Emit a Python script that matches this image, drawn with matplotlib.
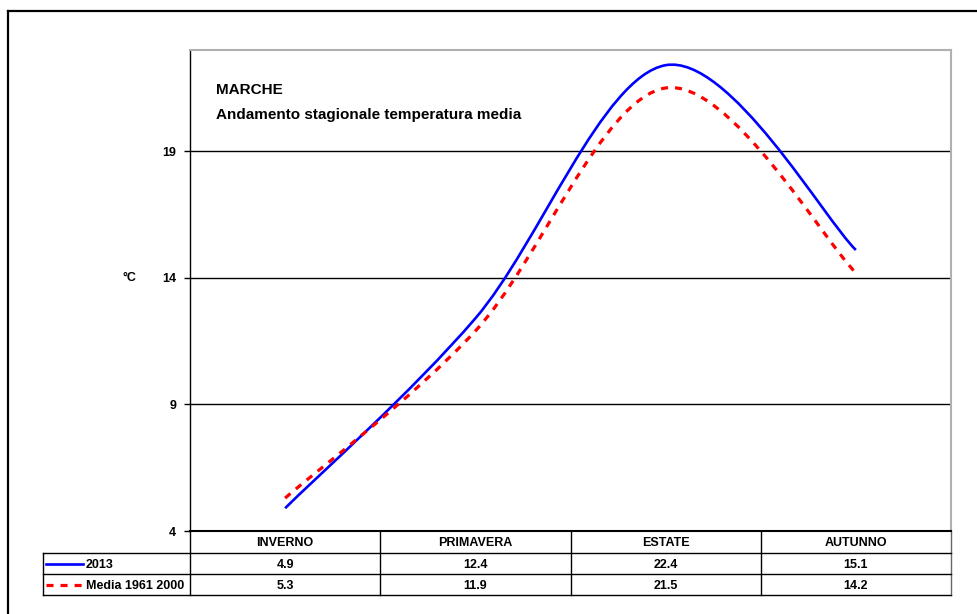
import numpy as np
import matplotlib.pyplot as plt
from matplotlib.path import Path
from matplotlib.patches import PathPatch
from matplotlib.lines import Line2D

plt.rcParams['font.family'] = ['Liberation Sans', 'DejaVu Sans']
plt.rcParams['font.weight'] = 'bold'

seasons = ['INVERNO', 'PRIMAVERA', 'ESTATE', 'AUTUNNO']
t2013 = [4.9, 12.4, 22.4, 15.1]
media = [5.3, 11.9, 21.5, 14.2]
series_names = ['2013', 'Media 1961 2000']
yticks = [4, 9, 14, 19]

W, H = 978, 614
fig = plt.figure(figsize=(W / 100, H / 100), dpi=100)

def fx(px):
    return px / W

def fy(py):
    return 1 - py / H

left, right, top, bottom = 190, 951, 50, 531
ax = fig.add_axes([fx(left), fy(bottom), fx(right - left), (bottom - top) / H])
ax.set_xlim(-0.5, 3.5)
ax.set_ylim(4, 23)


def smooth_path(ys):
    # excel-like smoothed line: bezier segments through the points
    xs = np.arange(len(ys), dtype=float)
    pts = np.column_stack([xs, ys])
    verts = [pts[0]]
    codes = [Path.MOVETO]
    n = len(pts)
    for i in range(n - 1):
        p0 = pts[max(i - 1, 0)]
        p1 = pts[i]
        p2 = pts[i + 1]
        p3 = pts[min(i + 2, n - 1)]
        c1 = p1 + (p2 - p0) / 6
        c2 = p2 - (p3 - p1) / 6
        verts += [c1, c2, p2]
        codes += [Path.CURVE4] * 3
    return Path(verts, codes)


ax.add_patch(PathPatch(smooth_path(t2013), fill=False, edgecolor='#0000ff', lw=1.9,
                       capstyle='butt', zorder=3))
ax.add_patch(PathPatch(smooth_path(media), fill=False, edgecolor='#ff0000', lw=2.3,
                       linestyle=(0, (2.2, 2.2)), capstyle='butt', zorder=3))

for v in yticks[1:]:
    ax.axhline(v, color='black', lw=1, zorder=1)

fs = 9
ax.set_yticks(yticks)
ax.set_yticklabels([str(v) for v in yticks], fontsize=fs, fontweight='bold')
ax.tick_params(axis='y', direction='out', length=4, width=1, pad=6)
ax.set_xticks([])
ax.spines['left'].set_linewidth(1)
ax.spines['bottom'].set_linewidth(1.5)
for s in ['top', 'right']:
    ax.spines[s].set_color('#b0b0b0')
    ax.spines[s].set_linewidth(1.5)

fig.text(fx(129), fy(278), '°C', fontsize=fs, fontweight='bold', ha='center', va='center')
ax.text(fx(216), fy(90), 'MARCHE', transform=fig.transFigure, fontsize=11,
        fontweight='bold', va='center')
ax.text(fx(216), fy(115), 'Andamento stagionale temperatura media', transform=fig.transFigure,
        fontsize=11, fontweight='bold', va='center')

# data table
def hline(y, x0, x1, **kw):
    fig.add_artist(Line2D([fx(x0), fx(x1)], [fy(y), fy(y)], color='black', lw=1, **kw))

def vline(x, y0, y1, **kw):
    fig.add_artist(Line2D([fx(x), fx(x)], [fy(y0), fy(y1)], color='black', lw=1, **kw))

hline(553, 43, right)
hline(574, 43, right)
hline(595, 43, right)
vline(43, 553, 595)
col_edges = [left + (right - left) * i / 4 for i in range(5)]
for x in col_edges[:-1]:
    vline(x, 531, 595)
vline(right, 531, 595, alpha=0.6)

for i, name in enumerate(seasons):
    cx = (col_edges[i] + col_edges[i + 1]) / 2
    fig.text(fx(cx), fy(543), name, fontsize=fs, fontweight='bold', ha='center', va='center')
    fig.text(fx(cx), fy(565), f'{t2013[i]:.1f}', fontsize=fs, fontweight='bold',
             ha='center', va='center')
    fig.text(fx(cx), fy(586), f'{media[i]:.1f}', fontsize=fs, fontweight='bold',
             ha='center', va='center')

fig.add_artist(Line2D([fx(46), fx(83)], [fy(564), fy(564)], color='#0000ff', lw=1.9))
fig.add_artist(Line2D([fx(46), fx(83)], [fy(585), fy(585)], color='#ff0000', lw=2.3,
                      linestyle=(0, (2.2, 2.2)), dash_capstyle='butt'))
fig.text(fx(86), fy(565), series_names[0], fontsize=fs, fontweight='bold', va='center')
fig.text(fx(86), fy(586), series_names[1], fontsize=fs, fontweight='bold', va='center')

# outer frame
fig.add_artist(Line2D([fx(8), fx(8)], [fy(11), 0], color='black', lw=1.6))
fig.add_artist(Line2D([fx(8), 1], [fy(11), fy(11)], color='black', lw=1.6))

fig.savefig('out.png', dpi=100)
